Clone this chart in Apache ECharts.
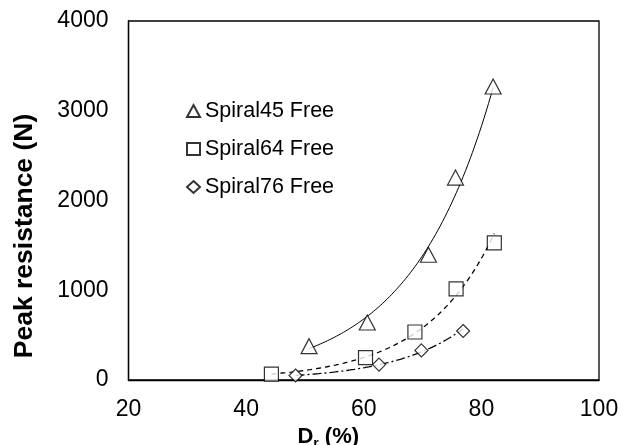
<!DOCTYPE html>
<html><head><meta charset="utf-8">
<script src="https://cdn.jsdelivr.net/npm/echarts@6/dist/echarts.min.js"></script>
<style>html,body{margin:0;padding:0;background:#fff}#c{width:629px;height:445px}</style>
</head><body><div id="c"></div>
<script>
const seriesNames = ['Spiral45 Free', 'Spiral64 Free', 'Spiral76 Free'];
const spiral45X = [50.7, 60.6, 71.0, 75.6, 82.0];
const spiral45Y = [377, 641, 1396, 2255, 3270];
const spiral64X = [44.3, 60.3, 68.7, 75.7, 82.2];
const spiral64Y = [66, 249, 535, 1015, 1527];
const spiral76X = [48.4, 62.6, 69.8, 76.9];
const spiral76Y = [50, 172, 330, 546];
const xTicks = [20, 40, 60, 80, 100];
const yTicks = [0, 1000, 2000, 3000, 4000];

// Exponential trendline (least squares on ln y), like a spreadsheet trendline
function expTrend(xs, ys) {
  const n = xs.length;
  const ls = ys.map(v => Math.log(v));
  const mx = xs.reduce((a, b) => a + b, 0) / n;
  const ml = ls.reduce((a, b) => a + b, 0) / n;
  let sxy = 0, sxx = 0;
  for (let i = 0; i < n; i++) { sxy += (xs[i] - mx) * (ls[i] - ml); sxx += (xs[i] - mx) * (xs[i] - mx); }
  const b = sxy / sxx, a = ml - b * mx;
  const lo = Math.min(...xs), hi = Math.max(...xs);
  const out = [];
  const steps = 80;
  for (let k = 0; k <= steps; k++) {
    const x = lo + (hi - lo) * k / steps;
    out.push([x, Math.exp(a + b * x)]);
  }
  return out;
}
const pairs = (xs, ys) => xs.map((x, i) => [x, ys[i]]);

const font = 'Liberation Sans, Arial, sans-serif';
const markerStyle = { color: '#ffffff', borderColor: '#000000', borderWidth: 1.2 };

const chart = echarts.init(document.getElementById('c'), null, { renderer: 'canvas' });
chart.setOption({
  backgroundColor: '#ffffff',
  animation: false,
  textStyle: { fontFamily: font, color: '#000' },
  grid: { left: 128.5, right: 30, top: 21, bottom: 65, show: true, borderColor: '#000', borderWidth: 1.3,
          backgroundColor: 'transparent', containLabel: false, outerBoundsMode: 'none' },
  legend: {
    data: seriesNames,
    orient: 'vertical',
    left: 181, top: 95,
    itemWidth: 13, itemHeight: 12, itemGap: 16,
    textStyle: { fontFamily: font, fontSize: 21.5, color: '#000' },
    selectedMode: false
  },
  xAxis: {
    type: 'value', min: xTicks[0], max: xTicks[xTicks.length - 1], interval: xTicks[1] - xTicks[0],
    name: '{b|D}{s|r}{b| (%)}', nameLocation: 'middle', nameGap: 34,
    nameTextStyle: {
      padding: [0, 71, 0, 0],
      rich: {
        b: { fontFamily: font, fontSize: 22, fontWeight: 'bold', color: '#000' },
        s: { fontFamily: font, fontSize: 14, fontWeight: 'bold', color: '#000', verticalAlign: 'bottom', padding: [0, 0, -3, 0] }
      }
    },
    axisLine: { show: true, lineStyle: { color: '#000', width: 1.3 } },
    axisTick: { show: false },
    axisLabel: { fontFamily: font, fontSize: 23, color: '#000', margin: 18.5 },
    splitLine: { show: false }
  },
  yAxis: {
    type: 'value', min: yTicks[0], max: yTicks[yTicks.length - 1], interval: yTicks[1] - yTicks[0],
    name: 'Peak resistance (N)', nameLocation: 'middle', nameGap: 90,
    nameTextStyle: { fontFamily: font, fontSize: 26.5, fontWeight: 'bold', color: '#000', padding: [0, 71, 0, 0] },
    axisLine: { show: true, lineStyle: { color: '#000', width: 1.3 } },
    axisTick: { show: false },
    axisLabel: { fontFamily: font, fontSize: 23, color: '#000', margin: 20, formatter: v => String(v) },
    splitLine: { show: false }
  },
  series: [
    { name: 'trend45', type: 'line', data: expTrend(spiral45X, spiral45Y), showSymbol: false, smooth: false,
      lineStyle: { color: '#000', width: 1, type: 'solid' }, z: 2 },
    { name: 'trend64', type: 'line', data: expTrend(spiral64X, spiral64Y), showSymbol: false,
      lineStyle: { color: '#000', width: 1.3, type: [5, 4] }, z: 2 },
    { name: 'trend76', type: 'line', data: expTrend(spiral76X, spiral76Y), showSymbol: false,
      lineStyle: { color: '#000', width: 1.3, type: [9, 3, 2, 3] }, z: 2 },
    { name: seriesNames[0], type: 'scatter', data: pairs(spiral45X, spiral45Y), symbol: 'triangle', symbolSize: [16, 15], itemStyle: markerStyle, z: 3 },
    { name: seriesNames[1], type: 'scatter', data: pairs(spiral64X, spiral64Y), symbol: 'rect', symbolSize: 14, itemStyle: markerStyle, z: 3 },
    { name: seriesNames[2], type: 'scatter', data: pairs(spiral76X, spiral76Y), symbol: 'diamond', symbolSize: 13, itemStyle: markerStyle, z: 3 }
  ]
});
</script>
</body></html>
